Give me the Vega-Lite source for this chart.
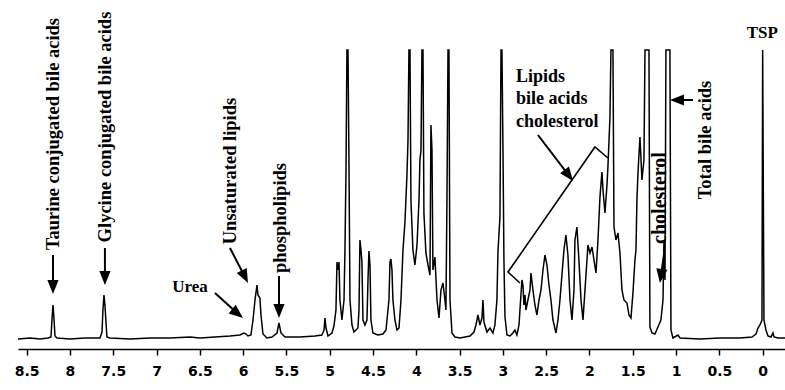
{
  "$schema": "https://vega.github.io/schema/vega-lite/v6.json",
  "width": 767,
  "height": 349,
  "autosize": "none",
  "padding": {"left": 18, "top": 0, "right": 0, "bottom": 41},
  "background": "white",
  "config": {"view": {"stroke": null}},
  "datasets": {
    "spectrum": [
      {"ppm": 8.600, "v": 0}, {"ppm": 8.462, "v": 1}, {"ppm": 8.346, "v": 0}, {"ppm": 8.254, "v": 1},
      {"ppm": 8.219, "v": 2}, {"ppm": 8.208, "v": 19}, {"ppm": 8.196, "v": 34}, {"ppm": 8.185, "v": 21},
      {"ppm": 8.173, "v": 3}, {"ppm": 8.150, "v": 1}, {"ppm": 8.000, "v": 0}, {"ppm": 7.827, "v": 1},
      {"ppm": 7.653, "v": 1}, {"ppm": 7.630, "v": 7}, {"ppm": 7.619, "v": 29}, {"ppm": 7.607, "v": 44},
      {"ppm": 7.596, "v": 34}, {"ppm": 7.584, "v": 17}, {"ppm": 7.573, "v": 2}, {"ppm": 7.538, "v": 1},
      {"ppm": 7.307, "v": 0}, {"ppm": 7.076, "v": 1}, {"ppm": 6.845, "v": 1}, {"ppm": 6.614, "v": 2},
      {"ppm": 6.499, "v": 1}, {"ppm": 6.325, "v": 2}, {"ppm": 6.152, "v": 3}, {"ppm": 6.037, "v": 4},
      {"ppm": 5.990, "v": 6}, {"ppm": 5.967, "v": 5}, {"ppm": 5.944, "v": 3}, {"ppm": 5.910, "v": 4},
      {"ppm": 5.886, "v": 19}, {"ppm": 5.863, "v": 39}, {"ppm": 5.840, "v": 54}, {"ppm": 5.829, "v": 44},
      {"ppm": 5.806, "v": 41}, {"ppm": 5.794, "v": 24}, {"ppm": 5.771, "v": 5}, {"ppm": 5.725, "v": 1},
      {"ppm": 5.667, "v": 2}, {"ppm": 5.609, "v": 6}, {"ppm": 5.586, "v": 16}, {"ppm": 5.563, "v": 6},
      {"ppm": 5.517, "v": 2}, {"ppm": 5.344, "v": 2}, {"ppm": 5.170, "v": 3}, {"ppm": 5.090, "v": 4},
      {"ppm": 5.066, "v": 9}, {"ppm": 5.055, "v": 21}, {"ppm": 5.043, "v": 11}, {"ppm": 5.020, "v": 3},
      {"ppm": 4.974, "v": 6}, {"ppm": 4.951, "v": 13}, {"ppm": 4.928, "v": 29}, {"ppm": 4.916, "v": 77},
      {"ppm": 4.905, "v": 69}, {"ppm": 4.893, "v": 77}, {"ppm": 4.882, "v": 39}, {"ppm": 4.859, "v": 19},
      {"ppm": 4.835, "v": 39}, {"ppm": 4.824, "v": 89}, {"ppm": 4.812, "v": 169}, {"ppm": 4.801, "v": 289},
      {"ppm": 4.789, "v": 289}, {"ppm": 4.778, "v": 179}, {"ppm": 4.766, "v": 39}, {"ppm": 4.743, "v": 14},
      {"ppm": 4.720, "v": 7}, {"ppm": 4.697, "v": 9}, {"ppm": 4.674, "v": 11}, {"ppm": 4.662, "v": 29},
      {"ppm": 4.651, "v": 99}, {"ppm": 4.639, "v": 89}, {"ppm": 4.628, "v": 77}, {"ppm": 4.616, "v": 19},
      {"ppm": 4.593, "v": 14}, {"ppm": 4.570, "v": 19}, {"ppm": 4.558, "v": 59}, {"ppm": 4.547, "v": 88},
      {"ppm": 4.535, "v": 74}, {"ppm": 4.524, "v": 19}, {"ppm": 4.501, "v": 6}, {"ppm": 4.443, "v": 4},
      {"ppm": 4.385, "v": 5}, {"ppm": 4.350, "v": 9}, {"ppm": 4.316, "v": 39}, {"ppm": 4.304, "v": 77},
      {"ppm": 4.293, "v": 80}, {"ppm": 4.281, "v": 69}, {"ppm": 4.270, "v": 39}, {"ppm": 4.247, "v": 19},
      {"ppm": 4.223, "v": 9}, {"ppm": 4.200, "v": 11}, {"ppm": 4.177, "v": 39}, {"ppm": 4.154, "v": 89},
      {"ppm": 4.131, "v": 117}, {"ppm": 4.108, "v": 164}, {"ppm": 4.096, "v": 199}, {"ppm": 4.085, "v": 289},
      {"ppm": 4.073, "v": 289}, {"ppm": 4.062, "v": 139}, {"ppm": 4.039, "v": 89}, {"ppm": 4.016, "v": 74},
      {"ppm": 3.992, "v": 94}, {"ppm": 3.969, "v": 139}, {"ppm": 3.958, "v": 179}, {"ppm": 3.946, "v": 189},
      {"ppm": 3.935, "v": 289}, {"ppm": 3.923, "v": 289}, {"ppm": 3.912, "v": 126}, {"ppm": 3.889, "v": 86},
      {"ppm": 3.865, "v": 74}, {"ppm": 3.842, "v": 64}, {"ppm": 3.831, "v": 214}, {"ppm": 3.819, "v": 189},
      {"ppm": 3.808, "v": 69}, {"ppm": 3.785, "v": 82}, {"ppm": 3.761, "v": 39}, {"ppm": 3.738, "v": 21},
      {"ppm": 3.715, "v": 49}, {"ppm": 3.692, "v": 56}, {"ppm": 3.669, "v": 39}, {"ppm": 3.658, "v": 29},
      {"ppm": 3.646, "v": 139}, {"ppm": 3.634, "v": 289}, {"ppm": 3.623, "v": 289}, {"ppm": 3.611, "v": 39},
      {"ppm": 3.588, "v": 6}, {"ppm": 3.554, "v": 2}, {"ppm": 3.496, "v": 1}, {"ppm": 3.438, "v": 2},
      {"ppm": 3.380, "v": 3}, {"ppm": 3.334, "v": 7}, {"ppm": 3.311, "v": 14}, {"ppm": 3.288, "v": 24},
      {"ppm": 3.265, "v": 14}, {"ppm": 3.242, "v": 21}, {"ppm": 3.230, "v": 39}, {"ppm": 3.219, "v": 17},
      {"ppm": 3.184, "v": 7}, {"ppm": 3.149, "v": 11}, {"ppm": 3.115, "v": 6}, {"ppm": 3.092, "v": 14},
      {"ppm": 3.069, "v": 39}, {"ppm": 3.057, "v": 87}, {"ppm": 3.034, "v": 122}, {"ppm": 3.022, "v": 289},
      {"ppm": 3.011, "v": 289}, {"ppm": 2.999, "v": 189}, {"ppm": 2.988, "v": 79}, {"ppm": 2.976, "v": 22},
      {"ppm": 2.953, "v": 4}, {"ppm": 2.918, "v": 3}, {"ppm": 2.884, "v": 6}, {"ppm": 2.861, "v": 9},
      {"ppm": 2.838, "v": 4}, {"ppm": 2.814, "v": 14}, {"ppm": 2.803, "v": 29}, {"ppm": 2.780, "v": 59},
      {"ppm": 2.768, "v": 54}, {"ppm": 2.757, "v": 34}, {"ppm": 2.745, "v": 44}, {"ppm": 2.734, "v": 29},
      {"ppm": 2.711, "v": 39}, {"ppm": 2.687, "v": 49}, {"ppm": 2.676, "v": 66}, {"ppm": 2.653, "v": 49},
      {"ppm": 2.630, "v": 34}, {"ppm": 2.607, "v": 24}, {"ppm": 2.583, "v": 39}, {"ppm": 2.560, "v": 49},
      {"ppm": 2.537, "v": 69}, {"ppm": 2.514, "v": 84}, {"ppm": 2.491, "v": 74}, {"ppm": 2.468, "v": 54},
      {"ppm": 2.445, "v": 39}, {"ppm": 2.422, "v": 19}, {"ppm": 2.387, "v": 6}, {"ppm": 2.364, "v": 19},
      {"ppm": 2.341, "v": 39}, {"ppm": 2.318, "v": 64}, {"ppm": 2.295, "v": 89}, {"ppm": 2.272, "v": 104},
      {"ppm": 2.249, "v": 84}, {"ppm": 2.225, "v": 39}, {"ppm": 2.202, "v": 19}, {"ppm": 2.179, "v": 49},
      {"ppm": 2.168, "v": 99}, {"ppm": 2.145, "v": 112}, {"ppm": 2.122, "v": 79}, {"ppm": 2.098, "v": 39},
      {"ppm": 2.075, "v": 19}, {"ppm": 2.052, "v": 49}, {"ppm": 2.029, "v": 79}, {"ppm": 2.018, "v": 94},
      {"ppm": 1.994, "v": 86}, {"ppm": 1.971, "v": 92}, {"ppm": 1.948, "v": 79}, {"ppm": 1.925, "v": 66},
      {"ppm": 1.902, "v": 99}, {"ppm": 1.879, "v": 142}, {"ppm": 1.856, "v": 167}, {"ppm": 1.844, "v": 149},
      {"ppm": 1.821, "v": 126}, {"ppm": 1.798, "v": 154}, {"ppm": 1.787, "v": 172}, {"ppm": 1.764, "v": 221},
      {"ppm": 1.752, "v": 289}, {"ppm": 1.729, "v": 289}, {"ppm": 1.717, "v": 112}, {"ppm": 1.694, "v": 99},
      {"ppm": 1.671, "v": 106}, {"ppm": 1.648, "v": 86}, {"ppm": 1.625, "v": 49}, {"ppm": 1.602, "v": 39},
      {"ppm": 1.567, "v": 36}, {"ppm": 1.544, "v": 24}, {"ppm": 1.521, "v": 21}, {"ppm": 1.498, "v": 46},
      {"ppm": 1.475, "v": 79}, {"ppm": 1.463, "v": 89}, {"ppm": 1.452, "v": 139}, {"ppm": 1.440, "v": 166},
      {"ppm": 1.417, "v": 202}, {"ppm": 1.394, "v": 159}, {"ppm": 1.371, "v": 179}, {"ppm": 1.359, "v": 289},
      {"ppm": 1.313, "v": 289}, {"ppm": 1.302, "v": 12}, {"ppm": 1.278, "v": 6}, {"ppm": 1.244, "v": 5},
      {"ppm": 1.209, "v": 12}, {"ppm": 1.175, "v": 19}, {"ppm": 1.151, "v": 39}, {"ppm": 1.140, "v": 99},
      {"ppm": 1.128, "v": 59}, {"ppm": 1.117, "v": 289}, {"ppm": 1.071, "v": 289}, {"ppm": 1.059, "v": 9},
      {"ppm": 1.036, "v": 1}, {"ppm": 0.978, "v": 4}, {"ppm": 0.955, "v": 1}, {"ppm": 0.724, "v": 0},
      {"ppm": 0.493, "v": 1}, {"ppm": 0.262, "v": 1}, {"ppm": 0.124, "v": 2}, {"ppm": 0.077, "v": 5},
      {"ppm": 0.054, "v": 11}, {"ppm": 0.031, "v": 14}, {"ppm": 0.008, "v": 19}, {"ppm": 0.000, "v": 289},
      {"ppm": -0.015, "v": 19}, {"ppm": -0.038, "v": 9}, {"ppm": -0.061, "v": 3}, {"ppm": -0.096, "v": 2},
      {"ppm": -0.119, "v": 6}, {"ppm": -0.131, "v": 2}, {"ppm": -0.177, "v": 1}, {"ppm": -0.258, "v": 1}
    ],
    "shafts": [
      {"ppm": 8.196, "v": 84, "ppm2": 8.196, "v2": 52},
      {"ppm": 7.596, "v": 91, "ppm2": 7.596, "v2": 61},
      {"ppm": 6.325, "v": 46, "ppm2": 6.064, "v2": 25.4},
      {"ppm": 6.152, "v": 91, "ppm2": 5.980, "v2": 62.3},
      {"ppm": 5.586, "v": 63, "ppm2": 5.586, "v2": 28},
      {"ppm": 2.595, "v": 204, "ppm2": 2.239, "v2": 163.6},
      {"ppm": 1.140, "v": 84, "ppm2": 1.175, "v2": 63},
      {"ppm": 0.805, "v": 239, "ppm2": 0.990, "v2": 239}
    ],
    "heads": [
      {"ppm": 8.196, "v": 52, "dir": 0},
      {"ppm": 7.596, "v": 61, "dir": 0},
      {"ppm": 6.064, "v": 25.4, "dir": -50.6},
      {"ppm": 5.980, "v": 62.3, "dir": -26.6},
      {"ppm": 5.586, "v": 28, "dir": 0},
      {"ppm": 2.239, "v": 163.6, "dir": -37.4},
      {"ppm": 1.175, "v": 63, "dir": 8},
      {"ppm": 0.990, "v": 239, "dir": 90}
    ],
    "bracket": [
      {"ppm": 2.803, "v": 56, "o": 0},
      {"ppm": 2.941, "v": 67, "o": 1},
      {"ppm": 1.937, "v": 192, "o": 2},
      {"ppm": 1.787, "v": 181, "o": 3}
    ],
    "vlabels": [
      {"ppm": 8.196, "v": 205, "text": "Taurine conjugated bile acids"},
      {"ppm": 7.596, "v": 212, "text": "Glycine conjugated bile acids"},
      {"ppm": 6.152, "v": 168, "text": "Unsaturated lipids"},
      {"ppm": 5.575, "v": 121, "text": "phospholipids"},
      {"ppm": 0.666, "v": 199, "text": "Total bile acids"}
    ],
    "vlabels2": [
      {"ppm": 1.186, "v": 141, "text": "cholesterol"}
    ],
    "clabels": [
      {"ppm": 6.614, "v": 52, "text": "Urea"},
      {"ppm": 0.005, "v": 306, "text": "TSP"}
    ],
    "llabels": [
      {"ppm": 2.849, "v": 257, "text": "Lipids"},
      {"ppm": 2.849, "v": 235, "text": "bile acids"},
      {"ppm": 2.849, "v": 212, "text": "cholesterol"}
    ]
  },
  "encoding": {
    "x": {
      "field": "ppm",
      "type": "quantitative",
      "scale": {"domain": [-0.258, 8.6], "reverse": true, "nice": false, "zero": false},
      "axis": {
        "title": null,
        "values": [0, 0.5, 1, 1.5, 2, 2.5, 3, 3.5, 4, 4.5, 5, 5.5, 6, 6.5, 7, 7.5, 8, 8.5],
        "format": "~g",
        "grid": false,
        "domainColor": "black",
        "domainWidth": 1.5,
        "tickColor": "black",
        "tickWidth": 1.5,
        "tickSize": 6,
        "labelFont": "DejaVu Sans",
        "labelFontWeight": "bold",
        "labelFontSize": 14,
        "labelColor": "black",
        "labelPadding": 9,
        "labelOverlap": false,
        "labelFlush": false
      }
    },
    "y": {
      "field": "v",
      "type": "quantitative",
      "scale": {"domain": [-10, 339], "nice": false, "zero": false},
      "axis": null
    }
  },
  "layer": [
    {
      "data": {"name": "spectrum"},
      "mark": {"type": "line", "color": "black", "strokeWidth": 1.5, "interpolate": "linear"}
    },
    {
      "data": {"name": "shafts"},
      "mark": {"type": "rule", "color": "black", "strokeWidth": 2},
      "encoding": {"x2": {"field": "ppm2"}, "y2": {"field": "v2"}}
    },
    {
      "data": {"name": "heads"},
      "mark": {"type": "point", "shape": "M-0.8,-1L0.8,-1L0,1Z", "filled": true, "color": "black", "opacity": 1, "size": 196},
      "encoding": {"angle": {"field": "dir", "type": "quantitative", "scale": null}}
    },
    {
      "data": {"name": "bracket"},
      "mark": {"type": "line", "color": "black", "strokeWidth": 1.6},
      "encoding": {"order": {"field": "o", "type": "quantitative"}}
    },
    {
      "data": {"name": "vlabels"},
      "mark": {"type": "text", "angle": 270, "align": "center", "baseline": "middle", "font": "Liberation Serif", "fontWeight": "bold", "fontSize": 18.5, "fill": "#000000", "color": "#000000"},
      "encoding": {"text": {"field": "text"}}
    },
    {
      "data": {"name": "vlabels2"},
      "mark": {"type": "text", "angle": 270, "align": "center", "baseline": "middle", "font": "Liberation Serif", "fontWeight": "bold", "fontSize": 20, "fill": "#000000", "color": "#000000"},
      "encoding": {"text": {"field": "text"}}
    },
    {
      "data": {"name": "clabels"},
      "mark": {"type": "text", "align": "center", "baseline": "middle", "font": "Liberation Serif", "fontWeight": "bold", "fontSize": 17, "fill": "#000000", "color": "#000000"},
      "encoding": {"text": {"field": "text"}}
    },
    {
      "data": {"name": "llabels"},
      "mark": {"type": "text", "align": "left", "baseline": "alphabetic", "font": "Liberation Serif", "fontWeight": "bold", "fontSize": 18, "fill": "#000000", "color": "#000000"},
      "encoding": {"text": {"field": "text"}}
    }
  ]
}
